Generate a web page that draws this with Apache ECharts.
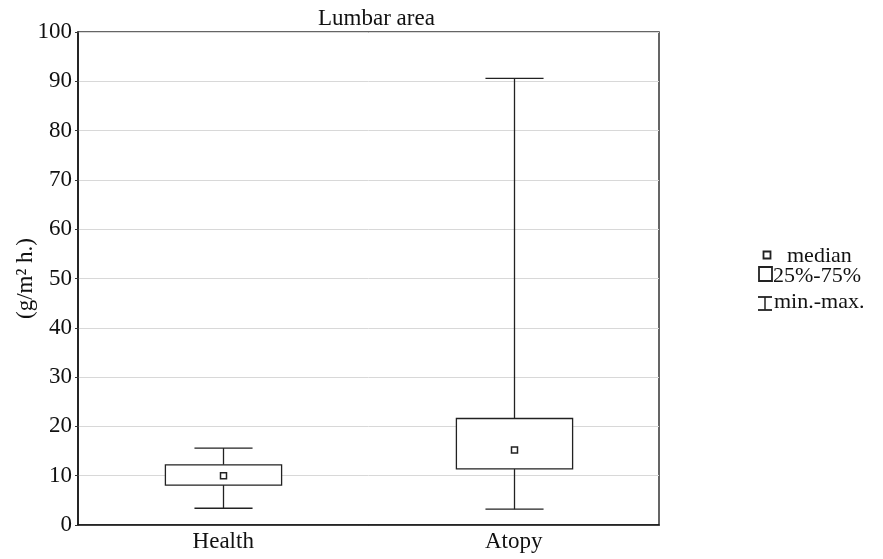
<!DOCTYPE html>
<html>
<head>
<meta charset="utf-8">
<script src="https://cdn.jsdelivr.net/npm/echarts@6/dist/echarts.min.js"></script>
<style>html,body{margin:0;padding:0;background:#fff;}#c{width:883px;height:559px;}</style>
</head>
<body>
<div id="c"></div>
<script>
var categories = ['Health', 'Atopy'];
var minValues = [3.4, 3.2];
var q1Values = [8.1, 11.4];
var medianValues = [10.0, 15.2];
var q3Values = [12.2, 21.6];
var maxValues = [15.6, 90.6];
var yTicks = [0, 10, 20, 30, 40, 50, 60, 70, 80, 90, 100];

var data = categories.map(function (c, i) {
  return [i, minValues[i], q1Values[i], medianValues[i], q3Values[i], maxValues[i]];
});

var font = 'Liberation Serif, Times New Roman, serif';
var chart = echarts.init(document.getElementById('c'));
chart.setOption({
  animation: false,
  backgroundColor: '#fff',
  title: {
    text: 'Lumbar area', left: 313, top: 2,
    textStyle: { fontFamily: font, fontSize: 23, fontWeight: 'normal', color: '#111' }
  },
  grid: { left: 78, right: 224, top: 32, bottom: 34, containLabel: false, outerBoundsMode: 'none', show: true, borderColor: '#333', borderWidth: 1.5, backgroundColor: 'transparent' },
  xAxis: {
    type: 'category', data: categories,
    axisLine: { lineStyle: { color: '#111', width: 1.5 } },
    axisTick: { alignWithLabel: true, length: 3, lineStyle: { color: '#333' } },
    axisLabel: { fontFamily: font, fontSize: 23, color: '#111', margin: 5 },
    splitLine: { show: false }
  },
  yAxis: {
    type: 'value', min: yTicks[0], max: yTicks[yTicks.length - 1], interval: 10,
    name: '(g/m² h.)', nameLocation: 'middle', nameGap: 41, nameRotate: 90, nameMoveOverlap: false,
    nameTextStyle: { fontFamily: font, fontSize: 23, color: '#111' },
    axisLine: { show: true, lineStyle: { color: '#111', width: 1.5 } },
    axisTick: { show: true, length: 3, lineStyle: { color: '#333' } },
    axisLabel: { fontFamily: font, fontSize: 23, color: '#111', margin: 6 },
    splitLine: { show: true, lineStyle: { color: '#d8d8d8', width: 1 } }
  },
  series: [{
    type: 'custom',
    data: data,
    renderItem: function (params, api) {
      var x = api.value(0);
      var pMin = api.coord([x, api.value(1)]);
      var pQ1 = api.coord([x, api.value(2)]);
      var pMed = api.coord([x, api.value(3)]);
      var pQ3 = api.coord([x, api.value(4)]);
      var pMax = api.coord([x, api.value(5)]);
      var band = api.size([1, 0])[0];
      var bw = band * 0.4, cw = band * 0.2;
      var cx = Math.round(pMed[0]) + 0.5;
      var st = { stroke: '#222', lineWidth: 1.3, fill: null };
      return {
        type: 'group',
        children: [
          { type: 'line', shape: { x1: cx, y1: pMax[1], x2: cx, y2: pQ3[1] }, style: st },
          { type: 'line', shape: { x1: cx, y1: pQ1[1], x2: cx, y2: pMin[1] }, style: st },
          { type: 'line', shape: { x1: cx - cw / 2, y1: pMax[1], x2: cx + cw / 2, y2: pMax[1] }, style: st },
          { type: 'line', shape: { x1: cx - cw / 2, y1: pMin[1], x2: cx + cw / 2, y2: pMin[1] }, style: st },
          { type: 'rect', shape: { x: cx - bw / 2, y: pQ3[1], width: bw, height: pQ1[1] - pQ3[1] }, style: { stroke: '#222', lineWidth: 1.3, fill: '#fff' } },
          { type: 'rect', shape: { x: cx - 3, y: pMed[1] - 3, width: 6, height: 6 }, style: { stroke: '#222', lineWidth: 1.5, fill: '#fff' } }
        ]
      };
    }
  }],
  graphic: [
    { type: 'rect', shape: { x: 763.5, y: 251.5, width: 7, height: 7 }, style: { stroke: '#222', lineWidth: 1.8, fill: '#fff' } },
    { type: 'text', x: 787, y: 256, style: { text: 'median', font: '22px ' + font, fill: '#111', textVerticalAlign: 'middle' } },
    { type: 'rect', shape: { x: 759, y: 267, width: 13, height: 14 }, style: { stroke: '#222', lineWidth: 1.8, fill: '#fff' } },
    { type: 'text', x: 773, y: 276, style: { text: '25%-75%', font: '22px ' + font, fill: '#111', textVerticalAlign: 'middle' } },
    { type: 'line', shape: { x1: 758, y1: 297, x2: 772, y2: 297 }, style: { stroke: '#222', lineWidth: 1.8 } },
    { type: 'line', shape: { x1: 765, y1: 297, x2: 765, y2: 310 }, style: { stroke: '#222', lineWidth: 1.5 } },
    { type: 'line', shape: { x1: 758, y1: 310, x2: 772, y2: 310 }, style: { stroke: '#222', lineWidth: 1.8 } },
    { type: 'text', x: 774, y: 302, style: { text: 'min.-max.', font: '22px ' + font, fill: '#111', textVerticalAlign: 'middle' } }
  ]
});
</script>
</body>
</html>
